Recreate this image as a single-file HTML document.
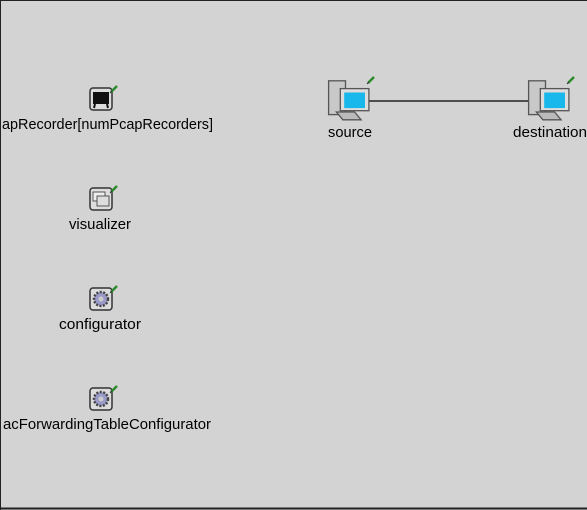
<!DOCTYPE html>
<html><head><style>
html,body{margin:0;padding:0;background:#d3d3d3;}
svg{display:block;}
text{font-family:"Liberation Sans",sans-serif;font-size:14.5px;fill:#000;}
</style></head><body>
<svg width="587" height="510" xmlns="http://www.w3.org/2000/svg">
<rect x="0" y="0" width="587" height="510" fill="#d3d3d3"/>
<line x1="0.5" y1="0" x2="0.5" y2="510" stroke="#222" stroke-width="1"/>
<line x1="0" y1="0.5" x2="587" y2="0.5" stroke="#222" stroke-width="1"/>
<line x1="0" y1="508.5" x2="587" y2="508.5" stroke="#222" stroke-width="2"/>

<line x1="368" y1="101" x2="532" y2="101" stroke="#000" stroke-width="1.2"/>

<defs>
<g id="pin"><line x1="0" y1="6" x2="6" y2="0" stroke="#2a8a2a" stroke-width="2.5"/><line x1="-1" y1="7" x2="1" y2="5" stroke="#333" stroke-width="1"/></g>
<g id="comp">
 <rect x="-18" y="-14" width="13" height="26" fill="#c8c8c8" stroke="#555"/>
 <rect x="-9" y="-8" width="22" height="17" fill="#ddd" stroke="#555"/>
 <rect x="-6" y="-5" width="16" height="12" fill="#19b8ec"/>
 <path d="M-12 10 l14 0 l5 6 l-14 0z" fill="#bbb" stroke="#555"/>
</g>
<g id="gear">
 <rect x="-11" y="-11" width="22" height="22" rx="3" fill="#ddd" stroke="#333" stroke-width="1.5"/>
 <circle r="7" fill="#9a9ac8" stroke="#444" stroke-dasharray="2 1.5" stroke-width="2.5"/>
 <circle r="2.5" fill="#ccc"/>
</g>
</defs>

<g transform="translate(101,99)">
 <rect x="-11" y="-11" width="22" height="22" rx="3" fill="#ddd" stroke="#333" stroke-width="1.5"/>
 <rect x="-8" y="-7" width="16" height="12" fill="#111"/>
 <line x1="-6" y1="5" x2="-7" y2="9" stroke="#111" stroke-width="2"/>
 <line x1="6" y1="5" x2="7" y2="9" stroke="#111" stroke-width="2"/>
</g>
<use href="#pin" x="111" y="86"/>
<text x="2" y="129" textLength="211" lengthAdjust="spacingAndGlyphs">apRecorder[numPcapRecorders]</text>

<g transform="translate(101,199)">
 <rect x="-11" y="-11" width="22" height="22" rx="3" fill="#ddd" stroke="#333" stroke-width="1.5"/>
 <rect x="-8" y="-7" width="12" height="9" fill="#eee" stroke="#555"/>
 <rect x="-4" y="-3" width="12" height="10" fill="#ddd" stroke="#555"/>
</g>
<use href="#pin" x="111" y="186"/>
<text x="69" y="229" textLength="62" lengthAdjust="spacingAndGlyphs">visualizer</text>

<g transform="translate(101,299)"><use href="#gear"/></g>
<use href="#pin" x="111" y="286"/>
<text x="59" y="329" textLength="82" lengthAdjust="spacingAndGlyphs">configurator</text>

<g transform="translate(101,399)"><use href="#gear"/></g>
<use href="#pin" x="111" y="386"/>
<text x="3" y="429" textLength="208" lengthAdjust="spacingAndGlyphs">acForwardingTableConfigurator</text>

<g transform="translate(352,99) scale(1.3)"><use href="#comp"/></g>
<use href="#pin" x="368" y="77"/>
<text x="328" y="137" textLength="44" lengthAdjust="spacingAndGlyphs">source</text>

<g transform="translate(552,99) scale(1.3)"><use href="#comp"/></g>
<use href="#pin" x="568" y="77"/>
<text x="513" y="137" textLength="74" lengthAdjust="spacingAndGlyphs">destination</text>
</svg>
</body></html>
